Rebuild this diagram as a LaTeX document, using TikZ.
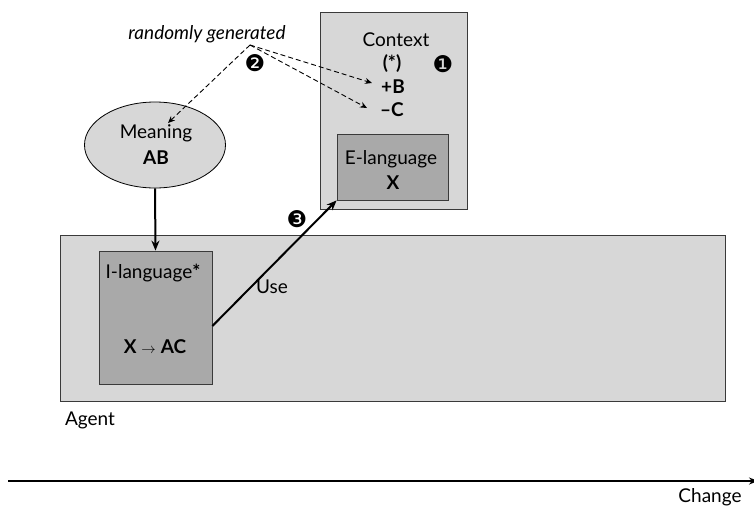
\documentclass[tikz,border=0pt]{standalone}
\usepackage{fontspec}
\setmainfont{Lato}
\newfontfamily\dingfont{DejaVu Sans}
\usetikzlibrary{arrows.meta,shapes.geometric}
\definecolor{lightfill}{HTML}{D7D7D7}
\definecolor{darkfill}{HTML}{A9A9A9}
\definecolor{edgecol}{HTML}{3A3A3A}
\begin{document}
\begin{tikzpicture}[x=1pt,y=-1pt,
  font=\fontsize{19}{22}\selectfont,
  box/.style={draw=edgecol, line width=0.8pt, inner sep=0pt, rectangle},
  lbl/.style={inner sep=1pt},
  dasharrow/.style={dashed, dash pattern=on 5pt off 3pt, line width=0.9pt, -{Stealth[length=7pt,width=6pt]}},
  solidarrow/.style={line width=2pt, -{Stealth[length=10pt,width=8pt]}},
  ding/.style={inner sep=0pt, font=\dingfont\fontsize{23}{26}\selectfont}]
\useasboundingbox (0,0) rectangle (754,512);
% boxes
\node[box, fill=lightfill, minimum width=147pt, minimum height=197pt] (context) at (393.5,110.5) {};
\node[box, fill=darkfill, minimum width=111pt, minimum height=66pt] (elang) at (392.5,167) {};
\node[box, fill=lightfill, minimum width=665pt, minimum height=166pt] (agent) at (392.5,318) {};
\node[box, fill=darkfill, minimum width=113pt, minimum height=133pt] (ilang) at (155.5,317.5) {};
\node[draw=black, line width=0.8pt, fill=lightfill, ellipse, inner sep=0pt, minimum width=141pt, minimum height=86pt] (meaning) at (155,145) {};
% texts
\node[lbl] (ctxlabel) at (396,40) {Context};
\node[lbl] (star) at (392,64) {\textbf{(*)}};
\node[ding] (one) at (443,64) {❶};
\node[lbl] (plusB) at (393,87) {\textbf{+B}};
\node[lbl] (minusC) at (392,110) {\textbf{–C}};
\node[lbl] (elabel) at (391,159) {E-language};
\node[lbl] (ex) at (393,183) {\textbf{X}};
\node[lbl] (mlabel) at (156,133) {Meaning};
\node[lbl] (ab) at (156,158) {\textbf{AB}};
\node[lbl] (rg) at (207,34) {\itshape randomly generated};
\node[ding] (two) at (255,63) {❷};
\node[ding] (three) at (297,219) {❸};
\node[lbl] (ilabel) at (153,273) {I-language\textbf{*}};
\node[lbl] (rule) at (155,347) {\textbf{X} {\fontsize{15}{15}\selectfont$\rightarrow$} \textbf{AC}};
\node[lbl] (use) at (272,287) {Use};
\node[lbl] (agentlabel) at (90,420) {Agent};
\node[lbl] (change) at (710,497) {Change};
% dashed connectors
\coordinate (apex) at (250,45);
\coordinate (mtarget) at (168,123);
\coordinate (btarget) at (372,83);
\coordinate (ctarget) at (367,108);
\draw[dasharrow] (apex) -- (mtarget);
\draw[dasharrow] (apex) -- (btarget);
\draw[dasharrow] (apex) -- (ctarget);
% solid connectors
\draw[solidarrow] (meaning.south) -- (ilang.north);
\draw[solidarrow] ([yshift=-8.5pt]ilang.east) -- (elang.south west);
% timeline
\coordinate (tstart) at (8,481);
\coordinate (tend) at (758,481);
\draw[line width=2pt, -{Stealth[length=9pt,width=7pt]}] (tstart) -- (tend);
\end{tikzpicture}
\end{document}
